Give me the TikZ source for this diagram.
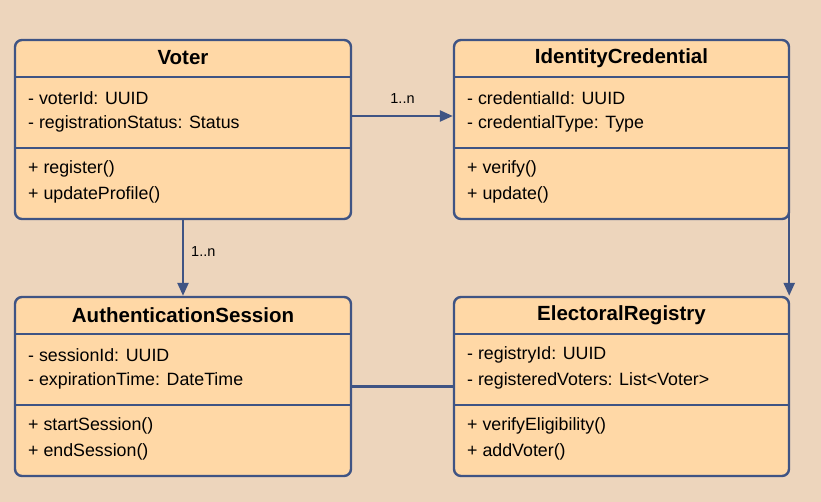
\documentclass[tikz,border=0pt]{standalone}
\usepackage{fontspec}
\setmainfont{Liberation Sans}
\usetikzlibrary{arrows.meta}
\definecolor{bgc}{HTML}{EDD5BC}
\definecolor{boxfill}{HTML}{FFD8A6}
\definecolor{edgec}{HTML}{3F5484}
\tikzset{
  classbox/.style={draw=edgec, fill=boxfill, line width=2.4pt, rounded corners=7pt,
    minimum width=336pt, minimum height=179pt, inner sep=0pt},
  sepline/.style={draw=edgec, line width=2pt},
  header/.style={font=\fontsize{20.5}{20.5}\selectfont\bfseries, anchor=center, inner sep=0pt},
  member/.style={font=\fontsize{17.8}{17.8}\selectfont, anchor=west, inner sep=0pt},
  assoc/.style={draw=edgec, line width=2.4pt, -{Triangle[length=13pt,width=11pt]}},
  plainline/.style={draw=edgec, line width=2.4pt},
  mult/.style={font=\fontsize{14.5}{14.5}\selectfont, inner sep=0pt}
}
\begin{document}
\begin{tikzpicture}[x=1pt,y=-1pt]
\useasboundingbox[fill=bgc] (0,0) rectangle (821,502);
% boxes
\node[classbox] (voter) at (183,129.5) {};
\node[classbox, minimum width=335pt] (ic) at (621.5,129.5) {};
\node[classbox] (auth) at (183,386.5) {};
\node[classbox, minimum width=335pt] (er) at (621.5,386.5) {};
% separators
\draw[sepline] (15,77) -- (351,77);
\draw[sepline] (15,148) -- (351,148);
\draw[sepline] (454,77) -- (789,77);
\draw[sepline] (454,148) -- (789,148);
\draw[sepline] (15,334) -- (351,334);
\draw[sepline] (15,405) -- (351,405);
\draw[sepline] (454,334) -- (789,334);
\draw[sepline] (454,405) -- (789,405);
% Voter
\node[header] (vh) at (183,58) {Voter};
\node[member] (va1) at (28,98) {- voterId: UUID};
\node[member] (va2) at (28,124) {- registrationStatus: Status};
\node[member] (vm1) at (28,169) {+ register()};
\node[member] (vm2) at (28,195) {+ updateProfile()};
% IdentityCredential
\node[header] (ich) at (621.5,58) {IdentityCredential};
\node[member] (ica1) at (467,98) {- credentialId: UUID};
\node[member] (ica2) at (467,124) {- credentialType: Type};
\node[member] (icm1) at (467,169) {+ verify()};
\node[member] (icm2) at (467,195) {+ update()};
% AuthenticationSession
\node[header] (ah) at (183,315) {AuthenticationSession};
\node[member] (aa1) at (28,355) {- sessionId: UUID};
\node[member] (aa2) at (28,381) {- expirationTime: DateTime};
\node[member] (am1) at (28,426) {+ startSession()};
\node[member] (am2) at (28,452) {+ endSession()};
% ElectoralRegistry
\node[header] (erh) at (621.5,315) {ElectoralRegistry};
\node[member] (era1) at (467,355) {- registryId: UUID};
\node[member] (era2) at (467,381) {- registeredVoters: List<Voter>};
\node[member] (erm1) at (467,426) {+ verifyEligibility()};
\node[member] (erm2) at (467,452) {+ addVoter()};
% connectors
\draw[assoc] ([yshift=13.5pt]voter.east) -- ([yshift=13.5pt]ic.west)
  node[mult, midway, above=11pt] (m1) {1..n};
\draw[assoc] (voter.south) -- (auth.north)
  node[mult, midway, right=7pt, yshift=6pt] (m2) {1..n};
\draw[assoc] ([xshift=-1pt,yshift=28pt]ic.south east) -- ([xshift=-1pt]er.north east);
\draw[plainline] (auth.east) -- (er.west);
\end{tikzpicture}
\end{document}
